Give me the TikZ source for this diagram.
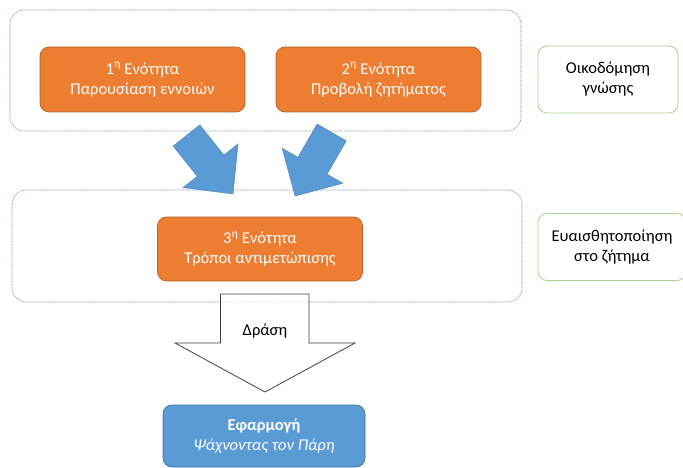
\documentclass[tikz,border=0pt]{standalone}
\usepackage{fontspec}
\setmainfont{Carlito}
\definecolor{orng}{HTML}{ED7D31}
\definecolor{orngd}{HTML}{B4622A}
\definecolor{blu}{HTML}{5B9BD5}
\definecolor{blud}{HTML}{41719C}
\definecolor{grn}{HTML}{A9D18E}
\definecolor{dash}{HTML}{7F93B5}
\definecolor{arr}{HTML}{404040}
\begin{document}
\begin{tikzpicture}[x=1pt,y=-1pt,
  container/.style={draw=dash, dash pattern=on 1.6pt off 0.9pt, line width=0.6pt, rounded corners=14pt},
  unitbox/.style={draw=orngd, fill=orng, rounded corners=9pt, line width=0.7pt, text=white, align=center, font=\fontsize{16.5}{20}\selectfont, inner sep=0pt},
  stagebox/.style={draw=grn, fill=white, rounded corners=9pt, line width=0.8pt, text=black, align=center, font=\fontsize{16.5}{20}\selectfont, inner sep=0pt},
  appbox/.style={draw=blud, fill=blu, rounded corners=9pt, line width=0.7pt, text=white, align=center, font=\fontsize{16.5}{19.5}\selectfont, inner sep=0pt},
  bluearrow/.style={fill=blu, draw=blu!85!black, line width=0.5pt},
  hollowarrow/.style={fill=white, fill opacity=0.75, draw=arr, line width=0.8pt}
]
\useasboundingbox (0,0) rectangle (683,468);
% containers
\draw[container] (10,10) rectangle (521,131);
\draw[container] (12,190) rectangle (522,302);
% unit boxes
\node[unitbox, minimum width=205pt, minimum height=65pt] (u1) at (142.5,79.5) {1\textsuperscript{η} Ενότητα\\Παρουσίαση εννοιών};
\node[unitbox, minimum width=205pt, minimum height=65pt] (u2) at (378.5,79.5) {2\textsuperscript{η} Ενότητα\\Προβολή ζητήματος};
\node[unitbox, minimum width=205pt, minimum height=64pt] (u3) at (260,249) {3\textsuperscript{η} Ενότητα\\Τρόποι αντιμετώπισης};
% stage boxes
\node[stagebox, minimum width=140pt, minimum height=67pt] (s1) at (608,79.5) {Οικοδόμηση\\γνώσης};
\node[stagebox, minimum width=148pt, minimum height=67pt] (s2) at (612,247) {Ευαισθητοποίηση\\στο ζήτημα};
% application box
\node[appbox, minimum width=202pt, minimum height=62pt] (app) at (264,436) {\textbf{Εφαρμογή}\\\textit{Ψάχνοντας τον Πάρη}};
% blue arrows
\begin{scope}[shift={(186.5,135.5)}, rotate=-51.5]
  \draw[bluearrow] (0,-17) -- (38.7,-17) -- (38.7,-35) -- (74.7,0) -- (38.7,35) -- (38.7,17) -- (0,17) -- cycle;
\end{scope}
\begin{scope}[shift={(331.7,132.5)}, rotate=-120]
  \draw[bluearrow] (0,-16.8) -- (38.4,-16.8) -- (38.4,-35) -- (73.3,0) -- (38.4,35) -- (38.4,16.8) -- (0,16.8) -- cycle;
\end{scope}
% hollow arrow
\draw[hollowarrow] (220.5,294) -- (309,294) -- (309,343) -- (355,343) -- (265,392) -- (175,343) -- (220.5,343) -- cycle;
\node[font=\fontsize{16.5}{20}\selectfont] (act) at (265,331) {Δράση};
\end{tikzpicture}
\end{document}
